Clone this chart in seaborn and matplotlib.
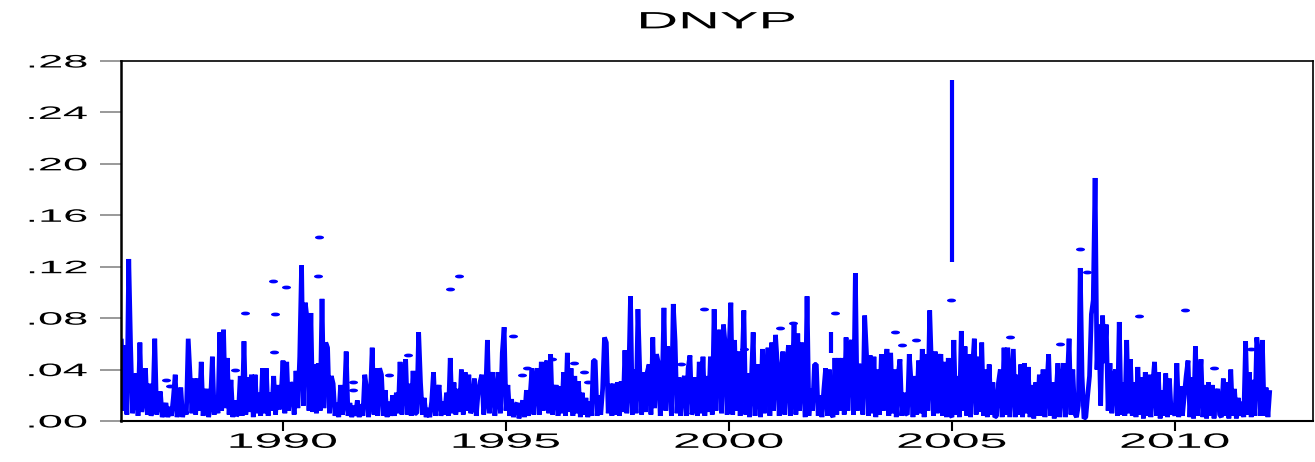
import numpy as np
import pandas as pd
import matplotlib
matplotlib.use("Agg")
import matplotlib.pyplot as plt
import seaborn as sns
from matplotlib.patheffects import AbstractPathEffect
from matplotlib.transforms import Affine2D
from matplotlib.path import Path

# ---------------- data (24 readings per year) ----------------
first_year = 1986
first_index = 9          # series starts in late spring 1986
y1986 = [.064, .008, .059, .005, .126, .058, .006, .020, .037, .004, .061, .007, .018, .041, .005]
y1987 = [.029, .004, .012, .064, .005, .015, .023, .003, .009, .014, .003, .011, .004, .018, .036, .003, .013, .026, .003, .012, .005, .064, .035, .006]
y1988 = [.033, .005, .033, .008, .046, .004, .018, .025, .003, .014, .050, .005, .020, .006, .069, .008, .071, .010, .049, .005, .032, .003, .016, .004]
y1989 = [.006, .035, .004, .062, .005, .034, .007, .036, .003, .036, .006, .022, .004, .041, .006, .041, .004, .022, .008, .035, .005, .028, .009, .020]
y1990 = [.047, .006, .046, .008, .030, .027, .005, .039, .010, .050, .121, .012, .092, .079, .008, .084, .007, .044, .006, .045, .008, .095, .010, .061]
y1991 = [.057, .006, .035, .029, .004, .014, .003, .028, .005, .015, .054, .004, .014, .003, .012, .004, .016, .003, .013, .004, .036, .025, .003, .018]
y1992 = [.057, .005, .041, .004, .041, .036, .004, .024, .003, .015, .004, .020, .004, .022, .006, .046, .005, .030, .048, .005, .029, .004, .039, .006]
y1993 = [.006, .069, .030, .005, .018, .003, .010, .003, .015, .038, .004, .020, .028, .004, .015, .005, .022, .004, .049, .006, .030, .005, .025, .007]
y1994 = [.040, .005, .038, .008, .036, .006, .010, .033, .004, .022, .030, .036, .005, .018, .063, .006, .025, .038, .004, .020, .038, .006, .053, .073]
y1995 = [.008, .028, .004, .017, .003, .012, .014, .002, .010, .016, .003, .024, .004, .020, .041, .005, .032, .041, .005, .046, .008, .040, .047, .006]
y1996 = [.052, .005, .020, .028, .004, .027, .006, .038, .004, .053, .007, .041, .004, .035, .006, .031, .003, .022, .005, .018, .003, .015, .004, .047]
y1997 = [.047, .004, .020, .005, .025, .065, .061, .006, .029, .004, .029, .005, .030, .004, .031, .007, .055, .006, .030, .097, .005, .040, .006, .087]
y1998 = [.038, .005, .038, .007, .038, .044, .005, .065, .010, .052, .045, .004, .025, .088, .008, .058, .040, .004, .091, .062, .006, .034, .004, .030]
y1999 = [.035, .004, .041, .051, .005, .010, .034, .004, .046, .006, .050, .004, .035, .007, .050, .005, .087, .008, .056, .071, .006, .075, .059, .005]
y2000 = [.054, .092, .005, .063, .008, .054, .004, .040, .086, .005, .037, .003, .030, .069, .004, .036, .044, .003, .056, .006, .036, .057, .004, .061]
y2001 = [.008, .067, .045, .004, .035, .054, .005, .040, .059, .004, .030, .075, .005, .068, .008, .061, .035, .003, .097, .004, .025, .008, .044, .044]
y2002 = [.004, .020, .003, .024, .041, .004, .040, .006, .003, .049, .005, .049, .008, .049, .005, .065, .008, .058, .063, .005, .115, .008, .043, .043]
y2003 = [.005, .082, .052, .004, .051, .006, .050, .003, .040, .005, .052, .008, .040, .056, .004, .053, .006, .040, .003, .035, .048, .004, .022, .006]
y2004 = [.005, .052, .030, .003, .035, .005, .047, .006, .056, .003, .052, .008, .086, .040, .004, .054, .006, .044, .052, .004, .046, .003, .049, .005]
y2005 = [.003, .063, .005, .035, .003, .070, .008, .058, .004, .052, .003, .040, .064, .005, .050, .007, .061, .004, .040, .003, .044, .005, .030, .003]
y2006 = [.004, .030, .040, .003, .057, .005, .057, .003, .030, .056, .003, .036, .005, .044, .003, .045, .006, .042, .003, .028, .002, .030, .004, .036]
y2007 = [.004, .040, .003, .025, .052, .004, .030, .002, .020, .045, .003, .030, .045, .003, .030, .064, .005, .040, .006, .003, .012, .119, .035, .002]
y2008 = [.003, .020, .035, .083, .094, .189, .040, .075, .012, .082, .045, .075, .008, .045, .006, .034, .040, .004, .077, .005, .030, .004, .063, .006]
y2009 = [.048, .004, .030, .003, .042, .005, .034, .002, .038, .004, .036, .003, .028, .046, .004, .038, .002, .024, .004, .037, .003, .033, .005, .012]
y2010 = [.004, .045, .003, .027, .004, .020, .035, .047, .003, .034, .002, .058, .004, .025, .048, .003, .028, .002, .030, .004, .028, .002, .020, .025]
y2011 = [.005, .003, .033, .004, .030, .002, .040, .004, .025, .002, .018, .004, .015, .003, .062, .005, .038, .003, .032, .004, .065, .050, .004, .063]
y2012 = [.004, .026, .003, .024]

years_data = [y1986, y1987, y1988, y1989, y1990, y1991, y1992, y1993, y1994,
              y1995, y1996, y1997, y1998, y1999, y2000, y2001, y2002, y2003,
              y2004, y2005, y2006, y2007, y2008, y2009, y2010, y2011, y2012]

# isolated observations (surrounded by missing values)
iso_year = [1987.377, 1987.466, 1988.92, 1989.148, 1989.776, 1989.821, 1989.80, 1990.067,
            1990.785, 1990.807, 1991.57, 1991.57, 1992.38, 1992.80, 1993.744, 1993.946,
            1995.157, 1995.35, 1995.47, 1996.03, 1996.52, 1996.76, 1996.84, 1998.92,
            1999.43, 2000.34, 2001.14, 2001.43, 2002.377, 2003.72, 2003.87, 2004.19,
            2004.985, 2006.30, 2007.42, 2007.87, 2008.02, 2009.19, 2010.22, 2010.87, 2011.70]
iso_val = [.032, .027, .040, .084, .109, .083, .054, .104,
           .113, .143, .030, .024, .036, .051, .103, .113,
           .066, .036, .041, .048, .045, .038, .030, .044,
           .087, .056, .072, .076, .084, .069, .059, .063,
           .094, .065, .060, .134, .116, .082, .086, .041, .056]

# short isolated runs of consecutive observations
seg_year = [2004.99, 2002.287]
seg_low = [.124, .053]
seg_high = [.265, .069]

yticks = [0.00, 0.04, 0.08, 0.12, 0.16, 0.20, 0.24, 0.28]
ytick_labels = [".00", ".04", ".08", ".12", ".16", ".20", ".24", ".28"]
xticks = [1990, 1995, 2000, 2005, 2010]
xtick_labels = ["1990", "1995", "2000", "2005", "2010"]
title = "DNYP"

# ---------------- build frame ----------------
dates, vals = [], []
for k, arr in enumerate(years_data):
    yr = first_year + k
    start = first_index if k == 0 else 0
    for j, v in enumerate(arr):
        dates.append(yr + (start + j) / 24.0)
        vals.append(v)
df = pd.DataFrame({"date": dates, "DNYP": vals})


class Stretch(AbstractPathEffect):
    """Draw glyphs horizontally widened, like the original export."""
    def __init__(self, sx, anchor="center"):
        super().__init__()
        self.sx = sx
        self.anchor = anchor

    def draw_path(self, renderer, gc, tpath, affine, rgbFace=None):
        ext = tpath.get_extents()
        if self.anchor == "center":
            cx = (ext.x0 + ext.x1) / 2
        elif self.anchor == "right":
            cx = ext.x1
        else:
            cx = ext.x0
        t = Affine2D().translate(-cx, 0).scale(self.sx, 1).translate(cx, 0) + affine
        renderer.draw_path(gc, tpath, t, rgbFace)


sns.set_style("white")
plt.rcParams["font.family"] = ["Liberation Sans", "DejaVu Sans"]

fig = plt.figure(figsize=(13.15, 4.62), dpi=100)
ax = fig.add_axes([121 / 1315, 1 - 421 / 462, (1313 - 121) / 1315, (421 - 61) / 462])

blue = "#0000FF"
sns.lineplot(data=df, x="date", y="DNYP", ax=ax, estimator=None, sort=False,
             color=blue, linewidth=3.4, solid_joinstyle="bevel", solid_capstyle="butt")

circ = Path.unit_circle()
ellipse = Path(circ.vertices * np.array([1.0, 0.42]), circ.codes)
ax.plot(iso_year, iso_val, ls="none", marker=ellipse, ms=6.5, mew=0, color=blue)
ax.vlines(seg_year, seg_low, seg_high, color=blue, linewidth=3.0)

ax.set_xlim(1986.368, 2013.094)
ax.set_ylim(0, 0.28)
ax.set_xlabel("")
ax.set_ylabel("")

ax.set_yticks(yticks, ytick_labels)
ax.set_xticks(xticks, xtick_labels)
ax.tick_params(axis="y", direction="out", length=15, width=1.2, color="#888888",
               pad=9.5, labelsize=13, labelcolor="black", left=True)
ax.tick_params(axis="x", direction="out", length=7, width=1.5, color="black",
               pad=1.5, labelsize=15, labelcolor="black", bottom=True)

for s in ["left", "right", "top", "bottom"]:
    ax.spines[s].set_visible(True)
    ax.spines[s].set_color("black")
ax.spines["left"].set_linewidth(1.8)
ax.spines["bottom"].set_linewidth(1.5)
ax.spines["top"].set_linewidth(1.2)
ax.spines["right"].set_linewidth(1.2)

ttl = ax.set_title(title, fontsize=17, pad=23.5, color="black")
ttl.set_path_effects([Stretch(2.45, "center")])

fig.canvas.draw()
for t in ax.yaxis.get_major_ticks():
    t.label1.set_path_effects([Stretch(2.5, "right")])
for t in ax.xaxis.get_major_ticks():
    t.label1.set_path_effects([Stretch(2.4, "center")])

fig.savefig("out.png", dpi=100, facecolor="white")
